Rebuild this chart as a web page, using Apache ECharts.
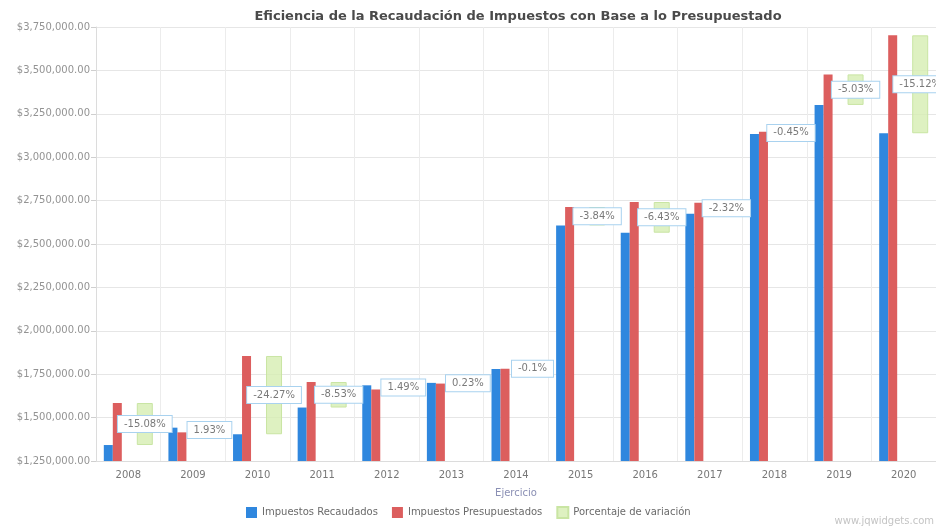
<!DOCTYPE html>
<html>
<head>
<meta charset="utf-8">
<script src="https://cdn.jsdelivr.net/npm/echarts@6/dist/echarts.min.js"></script>
<style>
html,body{margin:0;padding:0;background:#fff;}
#chart{width:936px;height:529px;}
</style>
</head>
<body>
<div id="chart"></div>
<script>
const categories = ['2008','2009','2010','2011','2012','2013','2014','2015','2016','2017','2018','2019','2020'];
const recaudados = [1342000, 1442000, 1404000, 1558000, 1686000, 1700000, 1780000, 2607000, 2565000, 2674000, 3133000, 3301000, 3138000];
const presupuestados = [1584000, 1415000, 1855000, 1705000, 1662000, 1696000, 1782000, 2713000, 2742000, 2738000, 3147000, 3477000, 3702000];
const variacion = ['-15.08', '1.93', '-24.27', '-8.53', '1.49', '0.23', '-0.1', '-3.84', '-6.43', '-2.32', '-0.45', '-5.03', '-15.12'];
const yTicks = [1250000, 3750000, 250000]; // min, max, interval

const rangeBase = recaudados.map((r, i) => Math.min(r, presupuestados[i]));
const rangeSize = recaudados.map((r, i) => Math.abs(r - presupuestados[i]));

function money(v) {
  return '$' + Number(v).toLocaleString('en-US', {minimumFractionDigits: 2, maximumFractionDigits: 2});
}

const FONT = 'DejaVu Sans';
const chart = echarts.init(document.getElementById('chart'), null, {renderer: 'canvas'});
chart.setOption({
  animation: false,
  backgroundColor: '#ffffff',
  textStyle: {fontFamily: FONT},
  title: {
    text: 'Eficiencia de la Recaudación de Impuestos con Base a lo Presupuestado',
    left: 513, textAlign: 'center', top: 5,
    textStyle: {fontFamily: FONT, fontSize: 13, fontWeight: 'bold', color: '#4a4a4a'}
  },
  grid: {left: 96, right: -2, top: 27, bottom: 68, containLabel: false},
  legend: {
    data: ['Impuestos Recaudados', 'Impuestos Presupuestados', 'Porcentaje de variación'],
    left: 246, top: 506, padding: 0,
    icon: 'rect', itemWidth: 11, itemHeight: 11, itemGap: 14,
    textStyle: {fontFamily: FONT, fontSize: 10, color: '#6a6a6a'}
  },
  xAxis: {
    type: 'category', data: categories, boundaryGap: true,
    name: 'Ejercicio', nameLocation: 'middle', nameGap: 27,
    nameTextStyle: {fontFamily: FONT, fontSize: 10, color: '#8a8fb4'},
    axisLine: {show: true, lineStyle: {color: '#dcdcdc'}},
    axisTick: {show: false},
    axisLabel: {fontFamily: FONT, fontSize: 10, color: '#777', margin: 9},
    splitLine: {show: true, lineStyle: {color: '#ececec'}}
  },
  yAxis: {
    type: 'value', min: yTicks[0], max: yTicks[1], interval: yTicks[2],
    axisLine: {show: true, lineStyle: {color: '#dcdcdc'}},
    axisTick: {show: true, length: 5, lineStyle: {color: '#cfcfcf'}},
    axisLabel: {fontFamily: FONT, fontSize: 10, color: '#939393', margin: 6, formatter: money},
    splitLine: {show: true, lineStyle: {color: '#e6e6e6'}}
  },
  series: [
    {
      name: 'Impuestos Recaudados', type: 'bar', data: recaudados,
      barWidth: 9, barGap: '0%',
      itemStyle: {color: '#2f87de'}
    },
    {
      name: 'Impuestos Presupuestados', type: 'bar', data: presupuestados,
      barWidth: 9, barGap: '0%',
      itemStyle: {color: '#dc5e5e'}
    },
    {
      name: '_spacer', type: 'bar', data: categories.map(() => '-'),
      barWidth: 15, barGap: '0%', silent: true,
      itemStyle: {color: 'rgba(0,0,0,0)'}
    },
    {
      name: '_base', type: 'bar', stack: 'rango', data: rangeBase,
      barWidth: 16, barGap: '0%', silent: true,
      itemStyle: {color: 'rgba(0,0,0,0)'}
    },
    {
      name: 'Porcentaje de variación', type: 'bar', stack: 'rango', data: rangeSize,
      barWidth: 16, barGap: '0%', z: 4,
      itemStyle: {color: 'rgba(214,238,178,0.8)', borderColor: '#c9e5a3', borderWidth: 1},
      label: {
        show: true, position: 'inside',
        formatter: p => variacion[p.dataIndex] + '%',
        fontFamily: FONT, fontSize: 10, color: '#7a7a7a',
        backgroundColor: '#ffffff', borderColor: '#a9d2ef', borderWidth: 1,
        padding: [3, 6]
      }
    }
  ],
  graphic: [{
    type: 'text', right: 2, bottom: 3,
    style: {text: 'www.jqwidgets.com', fontFamily: FONT, fontSize: 10, fill: '#c4c4c4'}
  }]
});
</script>
</body>
</html>
